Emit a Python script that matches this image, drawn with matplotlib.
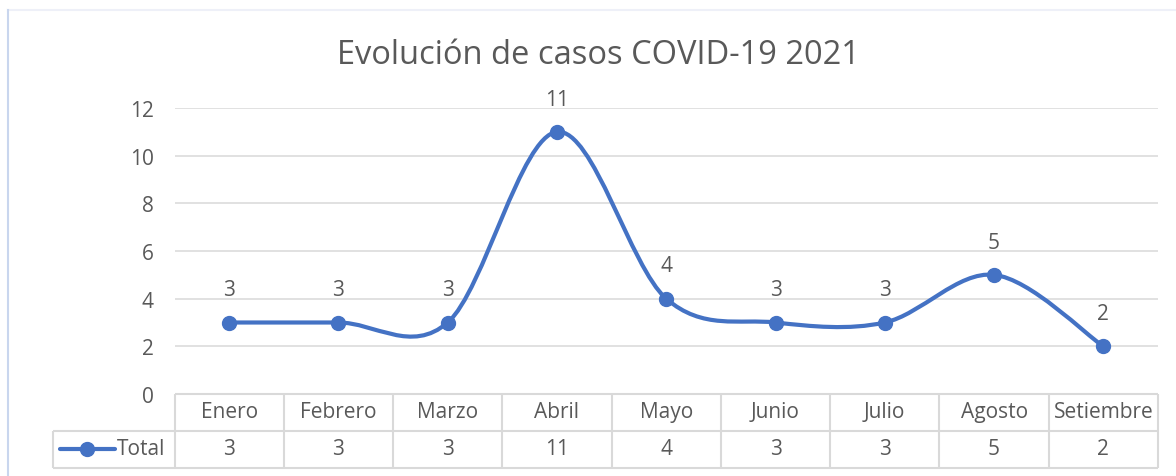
import numpy as np
import matplotlib.pyplot as plt
from matplotlib.path import Path
from matplotlib.patches import PathPatch
from matplotlib.lines import Line2D
import matplotlib.transforms as mtransforms

meses = ['Enero', 'Febrero', 'Marzo', 'Abril', 'Mayo', 'Junio', 'Julio', 'Agosto', 'Setiembre']
totales = [3, 3, 3, 11, 4, 3, 3, 5, 2]
serie = 'Total'
titulo = 'Evolución de casos COVID-19 2021'
yticks = [0, 2, 4, 6, 8, 10, 12]

W, H = 1176, 477
azul = '#4472C4'
gris_txt = '#595959'
gris_lin = '#D9D9D9'
fs = 15

plt.rcParams['font.family'] = ['Open Sans', 'DejaVu Sans']


def fx(x):
    return x / W


def fy(y):
    return 1 - y / H


def suavizado(xs, ys):
    # curva tipo Excel: bezier con tangentes de Catmull-Rom
    pts = np.column_stack([xs, ys]).astype(float)
    n = len(pts)
    verts = [pts[0]]
    codes = [Path.MOVETO]
    for i in range(n - 1):
        p0 = pts[max(i - 1, 0)]
        p1 = pts[i]
        p2 = pts[i + 1]
        p3 = pts[min(i + 2, n - 1)]
        c1 = p1 + (p2 - p0) / 6
        c2 = p2 - (p3 - p1) / 6
        verts += [c1, c2, p2]
        codes += [Path.CURVE4] * 3
    return Path(verts, codes)


fig = plt.figure(figsize=(W / 100, H / 100), dpi=100)
x0, x1 = 174.5, 1158
y0, y12 = 395, 109
ax = fig.add_axes([fx(x0), fy(y0), (x1 - x0) / W, (y0 - y12) / H])

xs = np.arange(len(meses))
ax.set_xlim(-0.5, len(meses) - 0.5)
ax.set_ylim(0, 12)
ax.set_yticks(yticks)
ax.set_xticks([])
ax.tick_params(axis='y', length=0, pad=15, labelsize=fs, labelcolor=gris_txt)
for s in ax.spines.values():
    s.set_visible(False)
ax.grid(axis='y', color=gris_lin, lw=1.1)
ax.set_axisbelow(True)

ax.add_patch(PathPatch(suavizado(xs, totales), fill=False, edgecolor=azul, lw=3, clip_on=False,
                       capstyle='round', zorder=3))
ax.plot(xs, totales, ls='none', marker='o', ms=10, color=azul, clip_on=False, zorder=4)
for x, v in zip(xs, totales):
    ax.annotate(str(v), (x, v), xytext=(0, 16), textcoords='offset points', ha='center',
                va='bottom', fontsize=fs, color=gris_txt)

fig.text(fx(598), fy(55), titulo, ha='center', va='center', fontsize=23.5, color=gris_txt)

# tabla de datos
tr = mtransforms.blended_transform_factory(ax.transData, fig.transFigure)
ya, yb, yc = fy(395), fy(432), fy(469)
xl = len(meses) - 0.5
kw = dict(color=gris_lin, lw=1.5, clip_on=False, solid_capstyle='butt')
fig.add_artist(Line2D([-0.5, xl], [ya, ya], transform=tr, **kw))
fig.add_artist(Line2D([fx(53), fx(x1)], [yb, yb], **kw))
fig.add_artist(Line2D([fx(53), fx(x1)], [yc, yc], **kw))
fig.add_artist(Line2D([fx(53), fx(53)], [yb, yc], **kw))
for b in np.arange(-0.5, len(meses)):
    fig.add_artist(Line2D([b, b], [ya, yc], transform=tr, **kw))
for x, m, v in zip(xs, meses, totales):
    fig.text(x, fy(413), m, transform=tr, ha='center', va='center', fontsize=fs, color=gris_txt)
    fig.text(x, fy(450), str(v), transform=tr, ha='center', va='center', fontsize=fs, color=gris_txt)

fig.add_artist(Line2D([fx(60), fx(87), fx(115)], [fy(450)] * 3, color=azul, lw=3,
                      marker='o', ms=10, markevery=[1], solid_capstyle='round'))
fig.text(fx(117), fy(450), serie, ha='left', va='center', fontsize=fs, color=gris_txt)

# borde del grafico
fig.add_artist(Line2D([fx(8), fx(W)], [fy(11), fy(11)], color='#EEF0F8', lw=1.5))
fig.add_artist(Line2D([fx(8), fx(8)], [fy(11), fy(H)], color='#C9D6EE', lw=1.5))

fig.savefig('out.png', dpi=100)
